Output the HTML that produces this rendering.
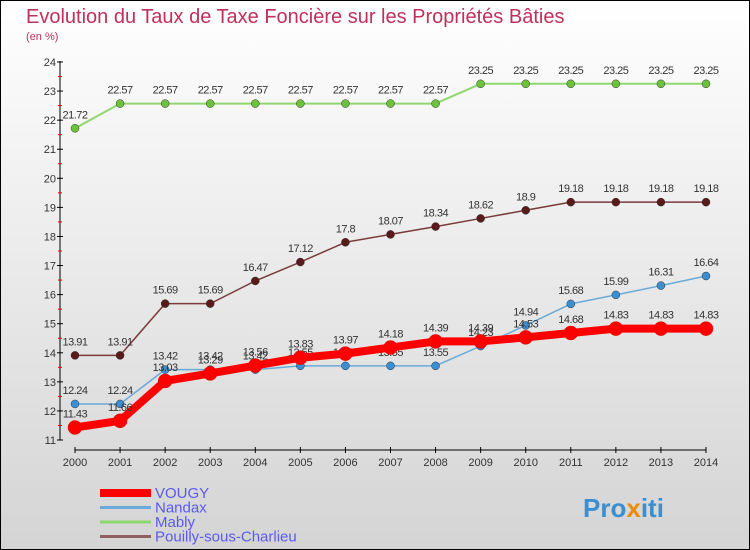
<!DOCTYPE html>
<html><head><meta charset="utf-8"><style>
body{margin:0;width:750px;height:550px;overflow:hidden}
svg{display:block;font-family:"Liberation Sans",sans-serif}
</style></head><body>
<svg id="c" width="750" height="550">
<defs><linearGradient id="bg" x1="0" y1="0" x2="0" y2="1"><stop offset="0" stop-color="#ffffff"/><stop offset="1" stop-color="#d4d4d4"/></linearGradient></defs>
<rect x="0.5" y="0.5" width="749" height="549" fill="url(#bg)" stroke="#000"/>
<text x="26" y="23" font-size="20" fill="#c0305a">Evolution du Taux de Taxe Foncière sur les Propriétés Bâties</text>
<text x="26" y="40" font-size="11" fill="#c0305a">(en %)</text>
<g id="axes"></g><g id="series"></g><g id="legend"></g>
<text x="583" y="517" font-size="26" font-weight="bold" fill="#3a8fd0">Pro<tspan fill="#f08a00">x</tspan>iti</text>
</svg>
<script>
const years=[2000,2001,2002,2003,2004,2005,2006,2007,2008,2009,2010,2011,2012,2013,2014];
const yTicks=[11,12,13,14,15,16,17,18,19,20,21,22,23,24];
const vougy=[11.43,11.66,13.03,13.29,13.56,13.83,13.97,14.18,14.39,14.39,14.53,14.68,14.83,14.83,14.83];
const nandax=[12.24,12.24,13.42,13.42,13.42,13.55,13.55,13.55,13.55,14.23,14.94,15.68,15.99,16.31,16.64];
const mably=[21.72,22.57,22.57,22.57,22.57,22.57,22.57,22.57,22.57,23.25,23.25,23.25,23.25,23.25,23.25];
const pouilly=[13.91,13.91,15.69,15.69,16.47,17.12,17.8,18.07,18.34,18.62,18.9,19.18,19.18,19.18,19.18];
const seriesNames=["VOUGY","Nandax","Mably","Pouilly-sous-Charlieu"];
const NS="http://www.w3.org/2000/svg";
const X=i=>75+i*(706-75)/(years.length-1);
const Y=v=>440-(v-11)*(440-62)/13;
function el(t,a,p){const e=document.createElementNS(NS,t);for(const k in a)e.setAttribute(k,a[k]);p.appendChild(e);return e;}
const ax=document.getElementById('axes');
let l=el('line',{x1:60,y1:61,x2:60,y2:440,stroke:'#000'},ax);


yTicks.forEach(v=>{
  el('line',{x1:57,y1:Y(v),x2:63,y2:Y(v),stroke:'#000'},ax);
  if(v<24)el('line',{x1:58,y1:Y(v+0.5),x2:62,y2:Y(v+0.5),stroke:'#e00'},ax);
  const t=el('text',{x:56,y:Y(v)+4,'font-size':11,'text-anchor':'end',fill:'#333'},ax);t.textContent=v;
  
  
});
l=el('line',{x1:75,y1:450,x2:706,y2:450,stroke:'#000'},ax);


years.forEach((y,i)=>{
  el('line',{x1:X(i),y1:447,x2:X(i),y2:453,stroke:'#000'},ax);
  const t=el('text',{x:X(i),y:466,'font-size':11,'text-anchor':'middle',fill:'#333'},ax);t.textContent=y;
  
  
});
const sg=document.getElementById('series');
const defs=[[mably,'#8fd870','#6cc23a',2,4,'mably'],[pouilly,'#7a3a3a','#5a1a1a',1.5,4,'pouilly'],[nandax,'#6aaad8','#3a8fd0',1.5,4,'nandax'],[vougy,'#f00','#f00',8,7,'vougy']];
defs.forEach(([d,lc,pc,w,r,n])=>{
  const g=el('g',{},sg);
  
  
  el('polyline',{points:d.map((v,i)=>X(i)+','+Y(v)).join(' '),fill:'none',stroke:lc,'stroke-width':w,'stroke-linejoin':'round'},g);
  d.forEach((v,i)=>{
    const c=el('circle',{cx:X(i),cy:Y(v),r:r,fill:pc,stroke:n=='vougy'?'#d00':'#333','stroke-width':0.5},g);
    
    
    const t=el('text',{x:X(i),y:Y(v)-10,'font-size':11,'text-anchor':'middle',fill:'#333','letter-spacing':'-0.5'},g);t.textContent=v;
    
    
  });
});
const lg=document.getElementById('legend');
const lcol=['#f00','#6aaad8','#8fd870','#906060'],lw=[8,3,3,3];
seriesNames.forEach((s,i)=>{
  const g=el('g',{},lg);
  
  
  const y=493+i*14.5;
  el('line',{x1:100,y1:y,x2:151,y2:y,stroke:lcol[i],'stroke-width':lw[i]},g);
  const t=el('text',{x:155,y:y+5,'font-size':15,fill:'#5a5aee'},g);t.textContent=s;
});
</script>
</body></html>
